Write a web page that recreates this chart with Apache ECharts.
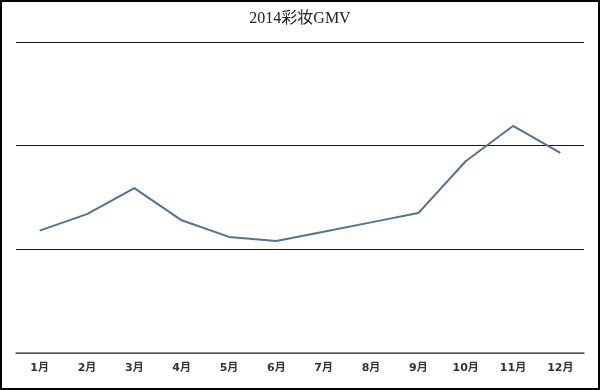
<!DOCTYPE html>
<html>
<head>
<meta charset="utf-8">
<script src="https://cdn.jsdelivr.net/npm/echarts@6/dist/echarts.min.js"></script>
<style>
html,body{margin:0;padding:0;background:#fff;}
#c{width:600px;height:390px;}
</style>
</head>
<body>
<div id="c"></div>
<script>
const titleText = '2014彩妆GMV';
const months = ['1月','2月','3月','4月','5月','6月','7月','8月','9月','10月','11月','12月'];
const gmv = [118, 134, 159, 128, 112, 108, 117, 126, 135, 185, 219, 193];

const chart = echarts.init(document.getElementById('c'), null, {renderer: 'canvas'});
chart.setOption({
  animation: false,
  backgroundColor: '#fff',
  title: {
    text: titleText,
    left: 'center',
    top: 6,
    textStyle: {
      fontFamily: '"Liberation Serif", "Noto Sans CJK SC", serif',
      fontSize: 16,
      fontWeight: 'normal',
      color: '#222'
    }
  },
  grid: {left: 16, right: 16, top: 42, bottom: 37, containLabel: false},
  xAxis: {
    type: 'category',
    data: months,
    boundaryGap: true,
    axisLine: {show: true, lineStyle: {color: '#666', width: 1.5}},
    axisTick: {show: false},
    axisLabel: {
      margin: 10,
      fontSize: 11,
      fontWeight: 'bold',
      color: '#333',
      fontFamily: '"DejaVu Sans", "Noto Sans CJK SC", sans-serif'
    }
  },
  yAxis: {
    type: 'value',
    min: 0,
    max: 300,
    interval: 100,
    axisLine: {show: false},
    axisTick: {show: false},
    axisLabel: {show: false},
    splitLine: {show: true, lineStyle: {color: '#1a1a1a', width: 1}}
  },
  series: [{
    type: 'line',
    data: gmv,
    symbol: 'none',
    lineStyle: {color: '#52729a', width: 2},
    itemStyle: {color: '#52729a'}
  }],
  graphic: [{
    type: 'rect',
    shape: {x: 0, y: 0, width: 600, height: 390},
    style: {fill: 'none', stroke: '#000', lineWidth: 4},
    silent: true
  }]
});
</script>
</body>
</html>
